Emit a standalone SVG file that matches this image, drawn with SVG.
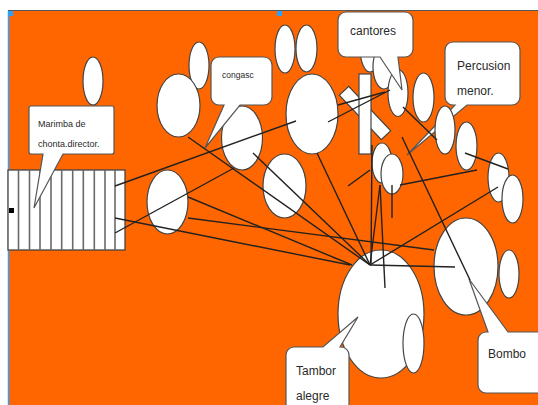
<svg xmlns="http://www.w3.org/2000/svg" width="538" height="405" viewBox="0 0 538 405">
<style>
.el{fill:#fff;stroke:#444;stroke-width:1.2}
.co{fill:#fff;stroke:#555;stroke-width:1.2;stroke-linejoin:miter}
.ln{stroke:#222;stroke-width:1.4;fill:none}
.bar{stroke:#6a6a6a;stroke-width:1.6}
.t{font-family:"Liberation Sans",Arial,sans-serif;fill:#2a2a2a}
</style>
<rect width="538" height="405" fill="#fff"/>
<rect x="8" y="11" width="530" height="394" fill="#ff6600"/>
<line x1="8" y1="10.5" x2="538" y2="10.5" stroke="#555" stroke-width="1"/>
<line x1="8.5" y1="11" x2="8.5" y2="405" stroke="#2aa0ff" stroke-width="1.5"/>
<rect x="8" y="11" width="5" height="5" fill="#2aa0ff"/>
<rect x="277" y="11" width="5" height="5" fill="#2aa0ff"/>

<g id="marimba">
<rect x="8" y="170" width="117" height="80" fill="#fff" stroke="#444" stroke-width="1.3"/>
<g class="bar">
<line x1="18.5" y1="170" x2="18.5" y2="250"/><line x1="29.5" y1="170" x2="29.5" y2="250"/>
<line x1="40" y1="170" x2="40" y2="250"/><line x1="51" y1="170" x2="51" y2="250"/>
<line x1="61.7" y1="170" x2="61.7" y2="250"/><line x1="72.7" y1="170" x2="72.7" y2="250"/>
<line x1="83.3" y1="170" x2="83.3" y2="250"/><line x1="94.3" y1="170" x2="94.3" y2="250"/>
<line x1="105" y1="170" x2="105" y2="250"/><line x1="115" y1="170" x2="115" y2="250"/>
</g>
<rect x="9" y="208" width="5" height="5" fill="#000"/>
</g>

<g id="percusion-callout">
<path class="co" d="M453,42 H512 A8,8 0 0 1 520,50 V97 A8,8 0 0 1 512,105 H467 L407,155 L455,105 H453 A8,8 0 0 1 445,97 V50 A8,8 0 0 1 453,42 Z"/>
<text class="t" x="457" y="70" font-size="12">Percusion</text>
<text class="t" x="457" y="95" font-size="12">menor.</text>
</g>

<g id="ellipses">
<ellipse id="director" class="el" cx="93" cy="81" rx="10" ry="24"/>
<ellipse id="conga-top" class="el" cx="199" cy="65.5" rx="10" ry="23.5"/>
<ellipse id="conga-left" class="el" cx="178.5" cy="105.5" rx="21.5" ry="31.5"/>
<ellipse id="conga-right" class="el" cx="242" cy="138" rx="20.5" ry="32"/>
<ellipse id="e-mid" class="el" cx="284.5" cy="186" rx="21.5" ry="32"/>
<ellipse id="e-left" class="el" cx="167.5" cy="202" rx="20.5" ry="32"/>
<ellipse id="top1" class="el" cx="285" cy="49" rx="10" ry="24"/>
<ellipse id="top2" class="el" cx="306.5" cy="48.5" rx="10.5" ry="23.5"/>
<ellipse id="big" class="el" cx="312" cy="114" rx="26" ry="40"/>
<ellipse id="cant1" class="el" cx="370" cy="48" rx="10" ry="24"/>
<ellipse id="cant2" class="el" cx="384" cy="67" rx="11" ry="22"/>
<ellipse id="cant3" class="el" cx="398" cy="93" rx="10" ry="23.5"/>
<ellipse id="cant4" class="el" cx="423.5" cy="97.5" rx="10.5" ry="24.5"/>
<ellipse id="perc1" class="el" cx="445" cy="130" rx="10" ry="24"/>
<ellipse id="perc2" class="el" cx="466.5" cy="146" rx="10.5" ry="24"/>
<ellipse id="perc3" class="el" cx="498.5" cy="177.5" rx="10.5" ry="24.5"/>
<ellipse id="perc4" class="el" cx="512.5" cy="199" rx="10.5" ry="24"/>
<ellipse id="small1" class="el" cx="382" cy="163" rx="10" ry="20"/>
<ellipse id="small2" class="el" cx="392" cy="174" rx="11" ry="20"/>
<ellipse id="bombo" class="el" cx="466" cy="266.5" rx="32" ry="48.5"/>
<ellipse id="bombo-side" class="el" cx="509" cy="274" rx="10" ry="24"/>
<ellipse id="tambor" class="el" cx="381" cy="314" rx="43" ry="64"/>
<ellipse id="tambor-side" class="el" cx="413.5" cy="343.5" rx="10.5" ry="29.5"/>
</g>

<g id="stands">
<rect class="el" x="-30.5" y="-6.5" width="61" height="13" transform="translate(365,113) rotate(46.5)"/>
<rect class="el" x="359" y="74" width="12" height="80"/>
</g>

<g id="marimba-callout">
<path class="co" d="M31,106 H112 Q114,106 114,108 V152 Q114,154 112,154 H63 L34,208 L43,154 H31 Q29,154 29,152 V108 Q29,106 31,106 Z"/>
<text class="t" x="38" y="127" font-size="9">Marimba de</text>
<text class="t" x="38" y="147" font-size="9">chonta.director.</text>
</g>

<g id="congas-callout">
<path class="co" d="M219,57 H264 A8,8 0 0 1 272,65 V97 A8,8 0 0 1 264,105 H240 L205,148 L224,105 H219 A8,8 0 0 1 211,97 V65 A8,8 0 0 1 219,57 Z"/>
<text class="t" x="222" y="78" font-size="8.5">congasc</text>
</g>

<g id="cantores-callout">
<path class="co" d="M346,12 H405 A8,8 0 0 1 413,20 V49 A8,8 0 0 1 405,57 H398 L402,90 L380,57 H346 A8,8 0 0 1 338,49 V20 A8,8 0 0 1 346,12 Z"/>
<text class="t" x="350" y="35" font-size="12">cantores</text>
</g>

<g id="bombo-callout">
<path class="co" d="M486,332 H488 L469,279 L508,332 H546 V393 H486 A8,8 0 0 1 478,385 V340 A8,8 0 0 1 486,332 Z"/>
<text class="t" x="488" y="358" font-size="12">Bombo</text>
</g>

<g id="tambor-callout">
<path class="co" d="M294,347 H323 L358,317 L340,347 H341 A8,8 0 0 1 349,355 V412 H286 V355 A8,8 0 0 1 294,347 Z"/>
<text class="t" x="296" y="375" font-size="12">Tambor</text>
<text class="t" x="296" y="400" font-size="12">alegre</text>
</g>

<g id="connectors" class="ln">
<line x1="115" y1="186" x2="296" y2="121"/>
<line x1="115" y1="218" x2="350" y2="265"/>
<line x1="115" y1="233" x2="234" y2="168"/>
<line x1="188" y1="137" x2="370" y2="265"/>
<line x1="253" y1="153" x2="370" y2="265"/>
<line x1="188" y1="197" x2="352" y2="265"/>
<line x1="188" y1="218" x2="434" y2="250"/>
<line x1="317" y1="153" x2="370" y2="265"/>
<line x1="328" y1="122" x2="390" y2="90"/>
<line x1="338" y1="105" x2="385" y2="92"/>
<line x1="400" y1="185" x2="477" y2="170"/>
<line x1="402" y1="137" x2="470" y2="280"/>
<line x1="403" y1="107" x2="437" y2="140"/>
<line x1="465" y1="153" x2="508" y2="169"/>
<line x1="498" y1="187" x2="370" y2="265"/>
<line x1="370" y1="265" x2="455" y2="267"/>
<line x1="372" y1="145" x2="371" y2="265"/>
<line x1="380" y1="185" x2="370" y2="265"/>
<line x1="380" y1="185" x2="385" y2="288"/>
<line x1="348" y1="186" x2="370" y2="170"/>
<line x1="392" y1="185" x2="392" y2="218"/>
</g>
</svg>
